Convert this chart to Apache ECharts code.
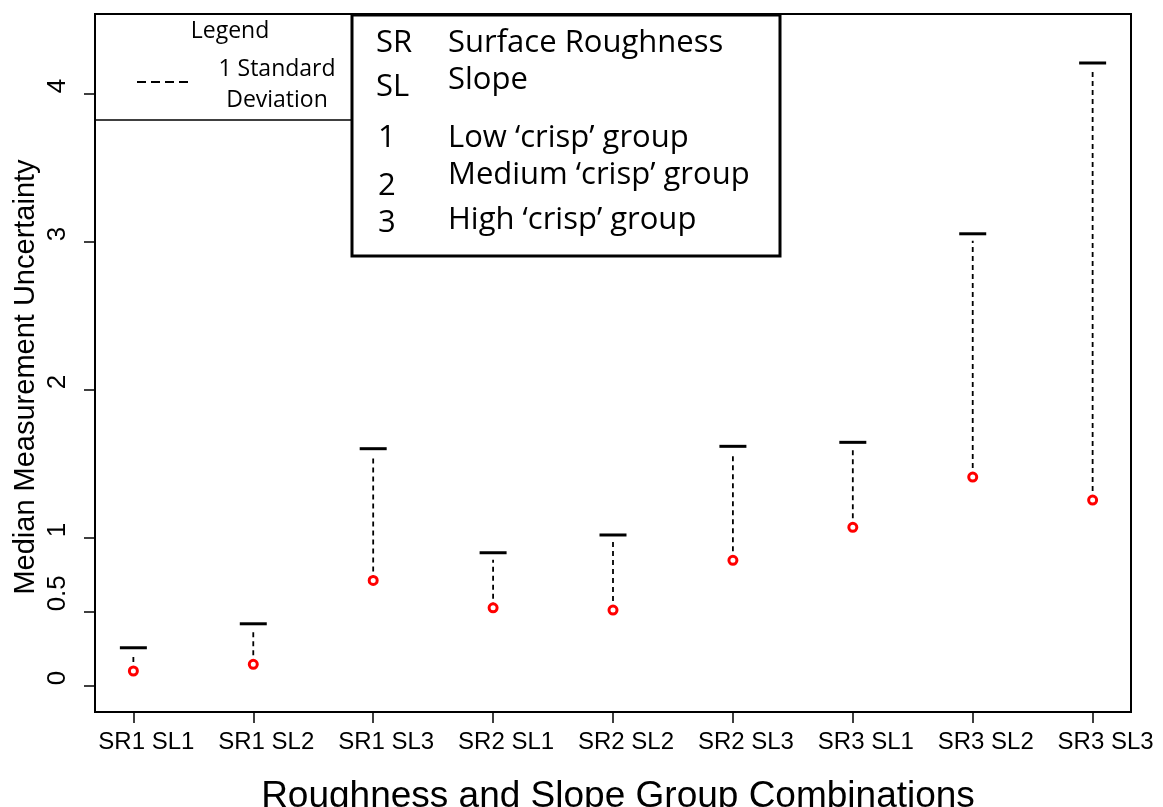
<!DOCTYPE html>
<html>
<head>
<meta charset="utf-8">
<title>Median Measurement Uncertainty</title>
<script src="https://cdn.jsdelivr.net/npm/echarts@6/dist/echarts.min.js"></script>
<style>
  html, body { margin: 0; padding: 0; background: #fff; }
  #chart { width: 1163px; height: 807px; }
</style>
</head>
<body>
<div id="chart"></div>
<script>
// Roughness / slope group combinations along the x axis
const categories = ['SR1 SL1', 'SR1 SL2', 'SR1 SL3', 'SR2 SL1', 'SR2 SL2', 'SR2 SL3', 'SR3 SL1', 'SR3 SL2', 'SR3 SL3'];
// Median measurement uncertainty per group (red circles)
const medianValues = [0.097, 0.142, 0.709, 0.524, 0.509, 0.845, 1.068, 1.407, 1.252];
// Median + 1 standard deviation (black caps)
const upperValues = [0.254, 0.416, 1.599, 0.896, 1.016, 1.615, 1.642, 3.051, 4.205];
// Y axis tick positions
const yTicks = [0, 0.5, 1, 2, 3, 4];
// X axis tick positions (one per group)
const xTicks = categories.map((c, i) => i);

const axisFont = 'Liberation Sans, Arial, Helvetica, sans-serif';
const boxFont = '"Open Sans", "Noto Sans", sans-serif';

const chart = echarts.init(document.getElementById('chart'), null, { renderer: 'canvas' });

const errorData = categories.map((c, i) => [i, medianValues[i], upperValues[i]]);
const pointData = categories.map((c, i) => [i, medianValues[i]]);

chart.setOption({
  backgroundColor: '#fff',
  animation: false,
  grid: {
    left: 95, top: 14, right: 32, bottom: 95,
    outerBoundsMode: 'none',
    containLabel: false,
    show: true, borderColor: '#000', borderWidth: 2, backgroundColor: 'transparent'
  },
  xAxis: {
    type: 'value',
    min: -0.32, max: 8.32,
    name: 'Roughness and Slope Group Combinations',
    nameLocation: 'middle',
    nameGap: 66,
    nameTextStyle: { fontFamily: axisFont, fontSize: 37, color: '#000', padding: [0, 0, 0, 10] },
    axisLine: { show: false, onZero: false },
    splitLine: { show: false },
    axisTick: { show: true, customValues: xTicks, length: 11, lineStyle: { color: '#000', width: 1.5 } },
    axisLabel: {
      customValues: xTicks,
      margin: 18,
      padding: [0, 0, 0, 26],
      fontFamily: axisFont, fontSize: 24, color: '#000',
      formatter: v => categories[Math.round(v)] || ''
    }
  },
  yAxis: {
    type: 'value',
    min: -0.18, max: 4.536,
    axisLine: { show: false, onZero: false },
    splitLine: { show: false },
    axisTick: { show: true, customValues: yTicks, length: 11, lineStyle: { color: '#000', width: 1.5 } },
    axisLabel: {
      customValues: yTicks,
      rotate: 90,
      align: 'left',
      verticalAlign: 'bottom',
      margin: 24,
      fontFamily: axisFont, fontSize: 26, color: '#000',
      formatter: v => String(v)
    }
  },
  series: [
    {
      type: 'custom',
      name: '1 Standard Deviation',
      encode: { x: 0, y: [1, 2] },
      data: errorData,
      z: 2,
      renderItem: function (params, api) {
        const x = api.value(0);
        const lo = api.coord([x, api.value(1)]);
        const hi = api.coord([x, api.value(2)]);
        return {
          type: 'group',
          children: [
            {
              type: 'line',
              shape: { x1: lo[0], y1: lo[1], x2: hi[0], y2: hi[1] + 7 },
              style: { stroke: '#000', lineWidth: 1.8, lineDash: [5, 4] }
            },
            {
              type: 'line',
              shape: { x1: hi[0] - 13.5, y1: hi[1], x2: hi[0] + 13.5, y2: hi[1] },
              style: { stroke: '#000', lineWidth: 3 }
            }
          ]
        };
      }
    },
    {
      type: 'scatter',
      name: 'Median',
      data: pointData,
      z: 3,
      symbol: 'circle',
      symbolSize: 8,
      itemStyle: { color: '#fff', borderColor: '#ff0000', borderWidth: 3, opacity: 1 }
    }
  ],
  graphic: [
    // Y axis title
    { type: 'text', z: 10, x: 26, y: 377, rotation: Math.PI / 2,
      style: { text: 'Median Measurement Uncertainty', font: '29px ' + axisFont, fill: '#000', align: 'center', verticalAlign: 'middle' } },
    // Line-style key, upper left
    { type: 'line', z: 10, shape: { x1: 95, y1: 120, x2: 352, y2: 120 }, style: { stroke: '#000', lineWidth: 1.5 } },
    { type: 'text', z: 10, x: 230, y: 31, style: { text: 'Legend', font: '23px ' + boxFont, fill: '#000', align: 'center', verticalAlign: 'middle' } },
    { type: 'line', z: 10, shape: { x1: 137, y1: 82, x2: 188, y2: 82 }, style: { stroke: '#000', lineWidth: 2, lineDash: [9, 5] } },
    { type: 'text', z: 10, x: 277, y: 69, style: { text: '1 Standard', font: '23px ' + boxFont, fill: '#000', align: 'center', verticalAlign: 'middle' } },
    { type: 'text', z: 10, x: 277, y: 100, style: { text: 'Deviation', font: '23px ' + boxFont, fill: '#000', align: 'center', verticalAlign: 'middle' } },
    // Abbreviation key
    { type: 'rect', z: 10, shape: { x: 352, y: 15, width: 428, height: 241 }, style: { fill: '#fff', stroke: '#000', lineWidth: 3 } },
    { type: 'text', z: 11, x: 376, y: 43, style: { text: 'SR', font: '31px ' + boxFont, fill: '#000', verticalAlign: 'middle' } },
    { type: 'text', z: 11, x: 448, y: 43, style: { text: 'Surface Roughness', font: '31px ' + boxFont, fill: '#000', verticalAlign: 'middle' } },
    { type: 'text', z: 11, x: 376, y: 87, style: { text: 'SL', font: '31px ' + boxFont, fill: '#000', verticalAlign: 'middle' } },
    { type: 'text', z: 11, x: 448, y: 80, style: { text: 'Slope', font: '31px ' + boxFont, fill: '#000', verticalAlign: 'middle' } },
    { type: 'text', z: 11, x: 378, y: 138, style: { text: '1', font: '31px ' + boxFont, fill: '#000', verticalAlign: 'middle' } },
    { type: 'text', z: 11, x: 448, y: 138, style: { text: 'Low \u2018crisp\u2019 group', font: '31px ' + boxFont, fill: '#000', verticalAlign: 'middle' } },
    { type: 'text', z: 11, x: 378, y: 186, style: { text: '2', font: '31px ' + boxFont, fill: '#000', verticalAlign: 'middle' } },
    { type: 'text', z: 11, x: 448, y: 175, style: { text: 'Medium \u2018crisp\u2019 group', font: '31px ' + boxFont, fill: '#000', verticalAlign: 'middle' } },
    { type: 'text', z: 11, x: 378, y: 223, style: { text: '3', font: '31px ' + boxFont, fill: '#000', verticalAlign: 'middle' } },
    { type: 'text', z: 11, x: 448, y: 220, style: { text: 'High \u2018crisp\u2019 group', font: '31px ' + boxFont, fill: '#000', verticalAlign: 'middle' } }
  ]
});
</script>
</body>
</html>
